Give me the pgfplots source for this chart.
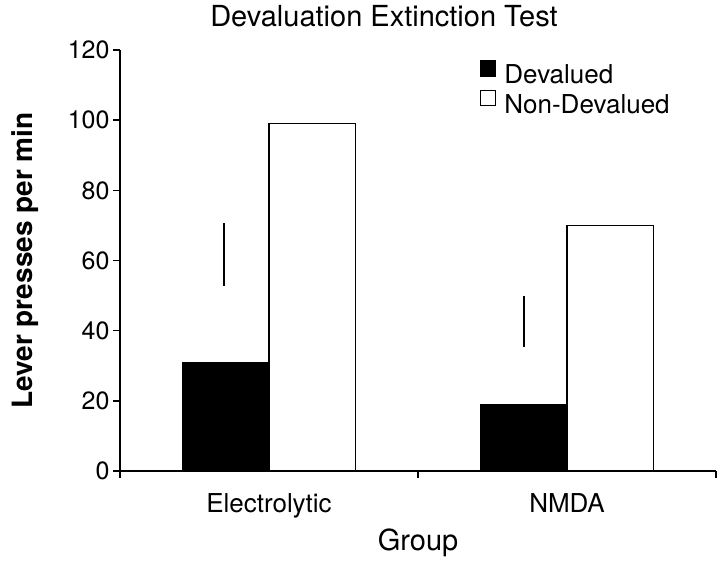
\documentclass[border=0pt]{standalone}
\usepackage{pgfplots}
\pgfplotsset{compat=1.18}
\usepackage{fontspec}
\setmainfont{TeX Gyre Heros}
\pgfplotsset{
  sqlegend/.style={legend image code/.code={\draw[##1, line width=1.2pt] (0pt,-1pt) rectangle (15pt,14pt);}},
}
\begin{document}
\begin{tikzpicture}
\begin{axis}[
  scale only axis, width=596pt, height=421pt,
  xmin=-0.5, xmax=1.5, ymin=0, ymax=120,
  axis x line*=bottom, axis y line*=left,
  axis line style={line width=1.4pt, -},
  tick style={line width=1.4pt, black},
  tick align=outside, major tick length=7pt,
  xtick={-0.5,0.5,1.5}, x tick label as interval,
  xticklabels={Electrolytic,NMDA},
  ytick={0,20,40,60,80,100,120},
  yticklabels={0,20,40,60,80,100,120},
  yticklabel style={font=\fontsize{25}{30}\selectfont},
  xticklabel style={font=\fontsize{26}{31}\selectfont, yshift=-12pt},
  title={\fontsize{29}{34}\selectfont Devaluation Extinction Test},
  every axis title/.style={at={(axis description cs:0.5,1)}, anchor=base, yshift=23pt, xshift=-34pt},
  xlabel={\fontsize{29}{34}\selectfont Group},
  every axis x label/.style={at={(axis description cs:0.5,0)}, anchor=base, yshift=-79pt},
  ylabel={\bfseries\fontsize{28}{33}\selectfont Lever presses per min},
  every axis y label/.style={at={(axis description cs:0,0.5)}, xshift=-87pt, rotate=90, anchor=base},
  legend style={draw=none, fill=none, at={(axis description cs:0.604,0.976)}, anchor=north west, font=\fontsize{26}{31}\selectfont, inner sep=0pt, row sep=3pt, /tikz/every odd column/.append style={column sep=6pt}},
  legend cell align=left,
]
\addplot[ybar, bar width=0.29, bar shift=-0.145, fill=black, draw=black, line width=1.2pt, sqlegend] coordinates {(0,31) (1,19)};
\addlegendentry{Devalued}
\addplot[ybar, bar width=0.29, bar shift=0.145, fill=white, draw=black, line width=1.4pt, sqlegend] coordinates {(0,99) (1,70)};
\addlegendentry{Non-Devalued}
\addplot[draw=none, mark=none, forget plot,
  error bars/.cd, y dir=both, y explicit, error mark=none,
  error bar style={draw=black, line width=1.6pt}]
  coordinates {(-0.15,61.7) +- (0,9.1) (0.855,42.6) +- (0,7.2)};
\coordinate (O) at (rel axis cs:0,0);
\end{axis}
\path ([shift={(-120pt,-91pt)}]O) rectangle ([shift={(600pt,471pt)}]O);
\end{tikzpicture}
\end{document}
